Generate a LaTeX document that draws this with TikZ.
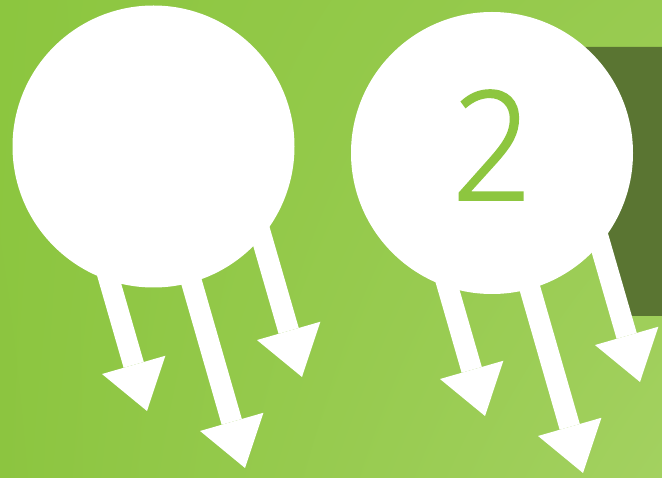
\documentclass[tikz,border=0pt]{standalone}
\usepackage{fontspec}
\usetikzlibrary{arrows.meta,shadings}
\IfFontExistsTF{Open Sans Light}{\newfontfamily\numfont[FakeBold=1.5,FakeStretch=0.93]{Open Sans Light}}{\newfontfamily\numfont{Liberation Sans}}
\definecolor{bgTL}{HTML}{8CC63F}
\definecolor{bgTR}{HTML}{98CB50}
\definecolor{bgBL}{HTML}{8CC540}
\definecolor{bgBR}{HTML}{A3D160}
\definecolor{darkbox}{HTML}{5A7532}
\definecolor{digit}{HTML}{8DC63F}
\tikzset{
  bubble/.style={circle, fill=white, minimum size=282pt, inner sep=0pt},
  flowarrow/.style={draw=white, line width=21pt, line cap=butt,
    -{Triangle[width=66pt,length=48pt,line width=0pt]}},
}
\begin{document}
\begin{tikzpicture}[x={(1pt,0pt)}, y={(0pt,-1pt)}]
  \useasboundingbox (0,0) rectangle (662,478);
  \shade[upper left=bgTL, upper right=bgTR, lower left=bgBL, lower right=bgBR] (0,0) rectangle (662,478);
  \fill[darkbox] (575,47) -- (662,47) -- (662,316) -- (612,316) -- (586,212) -- cycle;
  \node[bubble] (c1) at (153.5,146.5) {};
  \node[bubble] (c2) at (492,153) {};
  \node[inner sep=0pt, text=digit, font=\numfont\fontsize{151}{151}\selectfont] (n2) at (492,145) {2};
  % arrow start and tip coordinates
  \coordinate (s11) at (100,248); \coordinate (t11) at (147,411);
  \coordinate (s12) at (176,228); \coordinate (t12) at (245,468);
  \coordinate (s13) at (252,204); \coordinate (t13) at (302,377);
  \coordinate (s21) at (438,253); \coordinate (t21) at (485,416);
  \coordinate (s22) at (514,233); \coordinate (t22) at (583,473);
  \coordinate (s23) at (590,209); \coordinate (t23) at (640,382);
  \draw[flowarrow] (s11) -- (t11);
  \draw[flowarrow] (s12) -- (t12);
  \draw[flowarrow] (s13) -- (t13);
  \draw[flowarrow] (s21) -- (t21);
  \draw[flowarrow] (s22) -- (t22);
  \draw[flowarrow] (s23) -- (t23);
\end{tikzpicture}
\end{document}
